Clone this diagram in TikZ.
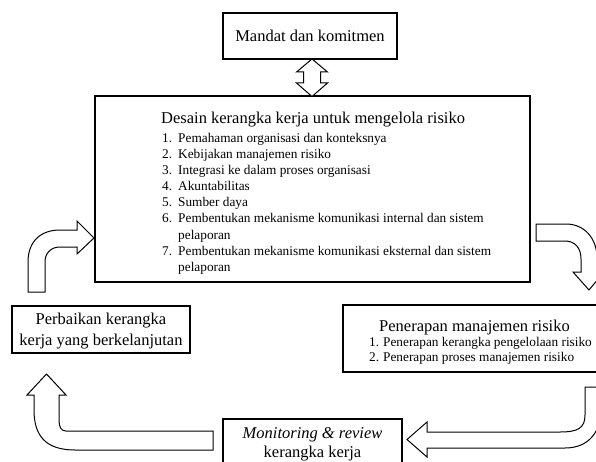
\documentclass[tikz,border=0pt]{standalone}
\usepackage{fontspec}
\setmainfont{Liberation Serif}
\begin{document}
\begin{tikzpicture}[x=1pt,y=-1pt,
  box/.style={draw, line width=1.2pt, inner sep=0pt, fill=white},
  fatarrow/.style={draw, fill=white, line width=1pt, line join=miter},
  ttl/.style={font=\fontsize{16.5}{20}\selectfont, inner sep=0pt},
  lst/.style={font=\fontsize{13.3}{16.1}\selectfont, inner sep=0pt, anchor=base west}]
\path[use as bounding box, clip] (0,0) rectangle (596,462);
\fill[white] (0,0) rectangle (596,462);

% boxes
\node[box, ttl, minimum width=174pt, minimum height=46pt] (mandat) at (310,36) {Mandat dan komitmen};
\node[box, minimum width=435pt, minimum height=186pt] (desain) at (312.5,189) {};
\node[box, minimum width=280pt, minimum height=67pt] (penerapan) at (483,338.5) {};
\node[box, minimum width=179pt, minimum height=56pt] (monitor) at (312.5,447) {};
\node[box, minimum width=178pt, minimum height=47pt] (perbaikan) at (101,329.5) {};

% texts
\node[ttl, anchor=base west] (desainT) at (161,124) {Desain kerangka kerja untuk mengelola risiko};
\node[lst] (desainL) at (162,142.5) {\begin{tabular}[t]{@{}l@{}l@{}}
\makebox[16pt][l]{1.} & Pemahaman organisasi dan konteksnya\\
\makebox[16pt][l]{2.} & Kebijakan manajemen risiko\\
\makebox[16pt][l]{3.} & Integrasi ke dalam proses organisasi\\
\makebox[16pt][l]{4.} & Akuntabilitas\\
\makebox[16pt][l]{5.} & Sumber daya\\
\makebox[16pt][l]{6.} & Pembentukan mekanisme komunikasi internal dan sistem\\
 & pelaporan\\
\makebox[16pt][l]{7.} & Pembentukan mekanisme komunikasi eksternal dan sistem\\
 & pelaporan
\end{tabular}};

\node[ttl, anchor=base west] (penT) at (379,331) {Penerapan manajemen risiko};
\node[lst, font=\fontsize{13.3}{15}\selectfont] (penL) at (369,346.5) {\begin{tabular}[t]{@{}l@{}l@{}}
\makebox[14pt][l]{1.} & Penerapan kerangka pengelolaan risiko\\
\makebox[14pt][l]{2.} & Penerapan proses manajemen risiko
\end{tabular}};

\node[ttl, anchor=base] (monT1) at (312.5,438) {\itshape Monitoring \& review};
\node[ttl, anchor=base] (monT2) at (312.5,457) {kerangka kerja};

\node[ttl, anchor=base] (perT1) at (101,324) {Perbaikan kerangka};
\node[ttl, anchor=base] (perT2) at (101,345) {kerja yang berkelanjutan};

% double arrow mandat <-> desain
\draw[fatarrow] (312,59) -- (327.5,72) -- (320.5,72) -- (320.5,83) -- (327.5,83) -- (312,96.5)
  -- (296.5,83) -- (303.5,83) -- (303.5,72) -- (296.5,72) -- cycle;

% top-right arrow (desain -> penerapan)
\draw[fatarrow] (536,224) -- (566,224) .. controls (584,224) and (597,238) .. (597,258)
  -- (597,272) -- (604,272) -- (589,290) -- (573,272) -- (581,272) -- (581,259)
  .. controls (581,248) and (575,241) .. (565,241) -- (536,241) -- cycle;

% bottom-right arrow (penerapan -> monitoring)
\draw[fatarrow] (585,387) -- (585,415) .. controls (585,428) and (578,432) .. (560,432)
  -- (427,432) -- (427,422) -- (407,439.5) -- (427,457) -- (427,448) -- (565,448)
  .. controls (590,448) and (601,430) .. (601,410) -- (601,387) -- cycle;

% bottom-left arrow (monitoring -> perbaikan)
\draw[fatarrow] (213,431) -- (66,431) .. controls (61,431) and (59,427) .. (59,420)
  -- (59,395) -- (66,395) -- (46.5,374) -- (27,395) -- (34,395) -- (34,410)
  .. controls (34,435) and (45,450) .. (75,450) -- (213,450) -- cycle;

% top-left arrow (perbaikan -> desain)
\draw[fatarrow] (28,292) -- (28,262) .. controls (28,242) and (40,230) .. (60,230)
  -- (77,230) -- (77,221) -- (94,238) -- (77,254) -- (77,247) -- (60,247)
  .. controls (51,247) and (45,253) .. (45,262) -- (45,292) -- cycle;
\end{tikzpicture}
\end{document}
